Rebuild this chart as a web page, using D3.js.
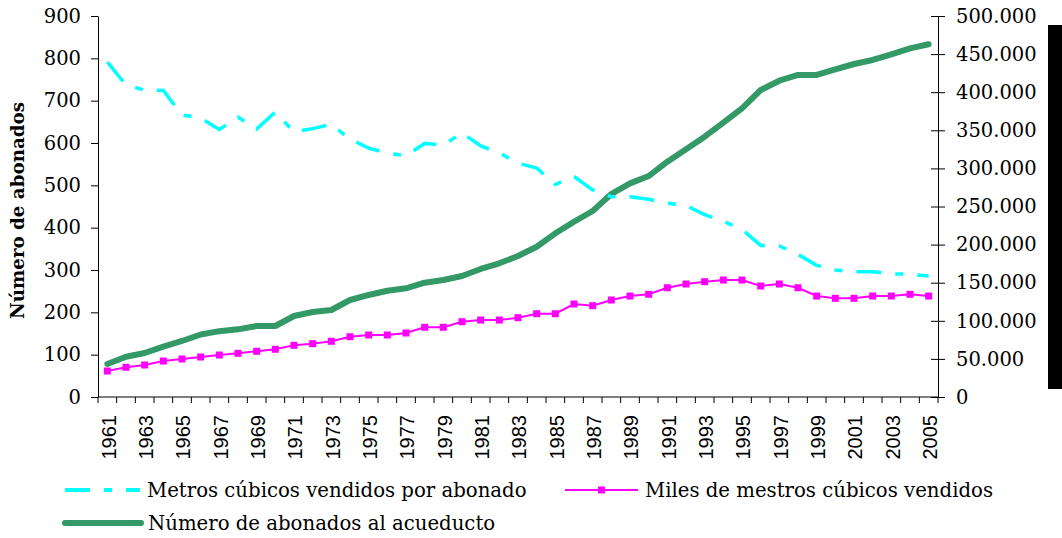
<!DOCTYPE html>
<html>
<head>
<meta charset="utf-8">
<script src="https://cdn.jsdelivr.net/npm/d3@7.9.0/dist/d3.min.js"></script>
<style>
  html, body { margin: 0; padding: 0; background: #fff; }
  svg { display: block; }
</style>
</head>
<body>
<div id="chart"></div>
<script>
const years = [1961, 1962, 1963, 1964, 1965, 1966, 1967, 1968, 1969, 1970,
    1971, 1972, 1973, 1974, 1975, 1976, 1977, 1978, 1979, 1980,
    1981, 1982, 1983, 1984, 1985, 1986, 1987, 1988, 1989, 1990,
    1991, 1992, 1993, 1994, 1995, 1996, 1997, 1998, 1999, 2000,
    2001, 2002, 2003, 2004, 2005];

// m3 vendidos por abonado (left axis)
const m3PorAbonado = [791, 737, 725, 724, 666, 659, 632, 661, 633, 673,
    626, 634, 644, 609, 588, 576, 570, 599, 595, 624,
    593, 577, 552, 541, 502, 521, 489, 473, 473, 467,
    458, 452, 431, 415, 396, 358, 357, 337, 311, 300,
    296, 296, 291, 290, 286];

// miles de m3 vendidos (right axis)
const milesM3 = [34100, 39000, 42000, 47200, 49900, 52500, 55100, 57300, 60000, 62600,
    67800, 70000, 73100, 79100, 81400, 81400, 84000, 91500, 91500, 98800,
    101000, 101000, 104100, 109300, 109300, 122000, 119800, 127300, 132500, 134800,
    143400, 148300, 151300, 153500, 153500, 145700, 148300, 143400, 132500, 129500,
    129500, 132500, 132500, 134800, 132500];

// numero de abonados (right axis)
const abonados = [43300, 52900, 57700, 66000, 73500, 82000, 86400, 88800, 93200, 93200,
    106300, 111500, 114200, 127300, 133900, 139500, 142600, 150000, 153500, 158800,
    168000, 175500, 185000, 197200, 214800, 230000, 244100, 266400, 280400, 290000,
    308800, 325000, 341600, 360000, 378900, 402900, 415100, 422600, 422600, 430000,
    437000, 442300, 449700, 457600, 462900];

const leftTicks = [0, 100, 200, 300, 400, 500, 600, 700, 800, 900];
const rightTicks = [0, 50000, 100000, 150000, 200000, 250000, 300000, 350000, 400000, 450000, 500000];
const yearLabels = years.filter(y => y % 2 === 1);

const width = 1062;
const height = 538;
const plot = {left: 98, right: 938, top: 16, bottom: 397};

const serif = "'DejaVu Serif', serif";
const sans = "'Liberation Sans', Arial, sans-serif";
const dashPattern = "25,14,8,14";

const esFormat = d3.formatLocale({decimal: ",", thousands: ".", grouping: [3], currency: ["", ""]}).format(",");

const x = d3.scaleBand()
    .domain(years)
    .range([plot.left, plot.right])
    .padding(0);
const cx = d => x(d) + x.bandwidth() / 2;

const yL = d3.scaleLinear().domain([0, 900]).range([plot.bottom, plot.top]);
const yR = d3.scaleLinear().domain([0, 500000]).range([plot.bottom, plot.top]);

const svg = d3.select("#chart").append("svg")
    .attr("width", width)
    .attr("height", height);

// left axis
const gL = svg.append("g")
    .attr("transform", `translate(${plot.left},0)`)
    .call(d3.axisLeft(yL).tickValues(leftTicks).tickSize(7).tickPadding(10).tickSizeOuter(0));

// right axis (ticks cross the line)
const gR = svg.append("g")
    .attr("transform", `translate(${plot.right},0)`)
    .call(d3.axisRight(yR).tickValues(rightTicks).tickSize(7).tickPadding(11).tickSizeOuter(0)
        .tickFormat(esFormat));
gR.selectAll(".tick line").attr("x1", -7);

// bottom axis: line + ticks at category edges, labels every other year
const gX = svg.append("g")
    .attr("transform", `translate(0,${plot.bottom})`);
gX.append("line")
    .attr("x1", plot.left).attr("x2", plot.right)
    .attr("stroke", "#000");
gX.selectAll(".edge")
    .data(years.concat(["end"]))
    .enter()
    .append("line")
    .attr("class", "edge")
    .attr("x1", d => d === "end" ? plot.right : x(d))
    .attr("x2", d => d === "end" ? plot.right : x(d))
    .attr("y1", 0).attr("y2", 6)
    .attr("stroke", "#000");
gX.selectAll(".ylab")
    .data(yearLabels)
    .enter()
    .append("text")
    .attr("class", "ylab")
    .attr("transform", d => `translate(${cx(d) + 1},0) rotate(-90)`)
    .attr("x", -18)
    .attr("dy", "0.36em")
    .attr("text-anchor", "end")
    .style("font-family", sans)
    .style("font-size", "20px")
    .attr("fill", "#000")
    .text(d => d);

[gL, gR].forEach(g => {
    g.select(".domain").attr("stroke", "#000");
    g.selectAll(".tick line").attr("stroke", "#000");
    g.selectAll(".tick text")
        .style("font-family", serif)
        .style("font-size", "19.5px")
        .attr("fill", "#000");
});

// axis title
svg.append("text")
    .attr("transform", `translate(24,${(plot.top + plot.bottom) / 2 + 4}) rotate(-90)`)
    .attr("text-anchor", "middle")
    .style("font-family", serif)
    .style("font-size", "18.3px")
    .style("font-weight", "bold")
    .text("Número de abonados");

// series
const lineR = d3.line().x((d, i) => cx(years[i])).y(d => yR(d));
const lineL = d3.line().x((d, i) => cx(years[i])).y(d => yL(d));

svg.append("path")
    .attr("d", lineR(abonados))
    .attr("fill", "none")
    .attr("stroke", "#339966")
    .attr("stroke-width", 6)
    .attr("stroke-linejoin", "round")
    .attr("stroke-linecap", "round");

svg.append("path")
    .attr("d", lineR(milesM3))
    .attr("fill", "none")
    .attr("stroke", "#ff00ff")
    .attr("stroke-width", 2);

svg.selectAll(".mk")
    .data(milesM3)
    .enter()
    .append("rect")
    .attr("class", "mk")
    .attr("x", (d, i) => cx(years[i]) - 3.5)
    .attr("y", d => yR(d) - 3.5)
    .attr("width", 7)
    .attr("height", 7)
    .attr("fill", "#ff00ff");

svg.append("path")
    .attr("d", lineL(m3PorAbonado))
    .attr("fill", "none")
    .attr("stroke", "#00ffff")
    .attr("stroke-width", 3.5)
    .attr("stroke-dasharray", dashPattern);

// legend
const legendItems = [
    {name: "Metros cúbicos vendidos por abonado", color: "#00ffff", x: 65, y: 490, len: 75, kind: "dash"},
    {name: "Miles de mestros cúbicos vendidos", color: "#ff00ff", x: 565, y: 490, len: 73, kind: "marker"},
    {name: "Número de abonados al acueducto", color: "#339966", x: 65, y: 523, len: 76, kind: "thick"}
];

const legend = svg.selectAll(".legend")
    .data(legendItems)
    .enter()
    .append("g")
    .attr("class", "legend")
    .attr("transform", d => `translate(${d.x},${d.y})`);

legend.append("line")
    .attr("x1", 0)
    .attr("x2", d => d.len)
    .attr("stroke", d => d.color)
    .attr("stroke-width", d => d.kind === "thick" ? 6 : d.kind === "dash" ? 4 : 2)
    .attr("stroke-linecap", d => d.kind === "thick" ? "round" : "butt")
    .attr("stroke-dasharray", d => d.kind === "dash" ? dashPattern : null);

legend.filter(d => d.kind === "marker")
    .append("rect")
    .attr("x", d => d.len / 2 - 3.5)
    .attr("y", -3.5)
    .attr("width", 7)
    .attr("height", 7)
    .attr("fill", d => d.color);

legend.append("text")
    .attr("x", d => d.len + 7)
    .attr("dy", "0.35em")
    .style("font-family", serif)
    .style("font-size", "19.7px")
    .attr("fill", "#000")
    .text(d => d.name);

// black bar at right edge
svg.append("rect")
    .attr("x", 1048)
    .attr("y", 25)
    .attr("width", 14)
    .attr("height", 364)
    .attr("fill", "#000");
</script>
</body>
</html>
